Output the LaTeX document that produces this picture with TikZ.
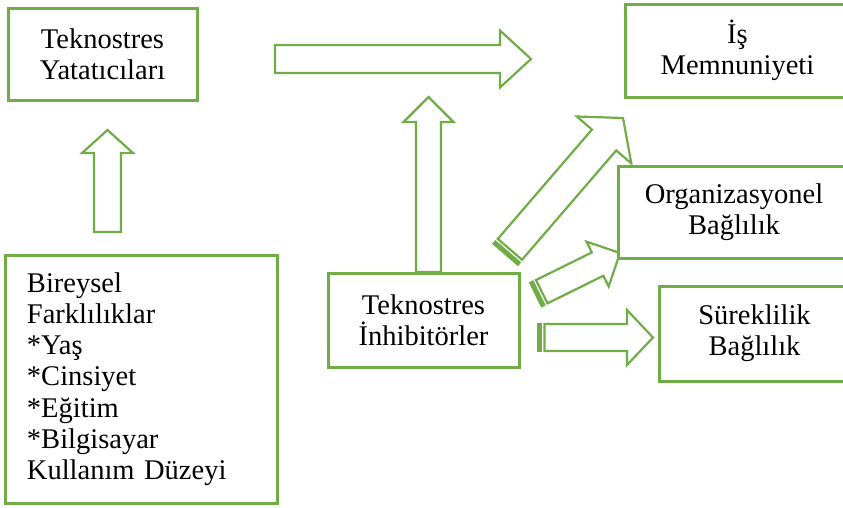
\documentclass[tikz,border=0pt]{standalone}
\usepackage{fontspec}
\setmainfont{Liberation Serif}
\usetikzlibrary{calc}

\definecolor{boxgreen}{HTML}{70AD47}

\tikzset{
  box/.style={draw=boxgreen, fill=white, line width=3pt, inner sep=0pt,
    align=center, font=\fontsize{28.5}{31.2}\selectfont},
  arrowline/.style={draw=boxgreen, fill=white, line width=2.2pt, line join=miter},
}

% #1 start of outline, #2 from, #3 to, #4 half shaft, #5 half head, #6 head length
\newcommand\blockarrow[6]{%
  \draw[arrowline] let \p1=($(#3)-(#2)$), \n1={atan2(\y1,\x1)}, \n2={veclen(\x1,\y1)} in
    [shift={(#2)},rotate=\n1]
    (#1,-#4) -- (\n2-#6,-#4) -- (\n2-#6,-#5) -- (\n2,0) -- (\n2-#6,#5)
    -- (\n2-#6,#4) -- (#1,#4) -- cycle;}

% same, with the striped tail
\newcommand\stripearrow[5]{%
  \fill[boxgreen] let \p1=($(#2)-(#1)$), \n1={atan2(\y1,\x1)} in
    [shift={(#1)},rotate=\n1] (0,-#3-1.1) rectangle (5,#3+1.1);
  \blockarrow{7.5}{#1}{#2}{#3}{#4}{#5}}

\begin{document}
\begin{tikzpicture}[x=1pt,y=-1pt]

\useasboundingbox (0,0) rectangle (843,507);
\clip (0,0) rectangle (843,507);

% arrow ends
\coordinate (topfrom) at (275,59);
\coordinate (topto) at (531,59);
\coordinate (bfrom) at (107.5,232);
\coordinate (bto) at (107.5,130);
\coordinate (ifrom) at (428.5,272);
\coordinate (ito) at (428.5,97);
\coordinate (d1from) at (505,255);
\coordinate (d1to) at (623,118);
\coordinate (d2from) at (535,295);
\coordinate (d2to) at (620,253);
\coordinate (hfrom) at (537,337.5);
\coordinate (hto) at (653,337.5);

\blockarrow{0}{topfrom}{topto}{14}{28.5}{31}
\blockarrow{0}{bfrom}{bto}{13.5}{25.5}{23}
\blockarrow{0}{ifrom}{ito}{12.5}{25}{25}

\stripearrow{d1from}{d1to}{16}{36}{29}
\stripearrow{d2from}{d2to}{13}{25}{25}
\stripearrow{hfrom}{hto}{13.5}{27.5}{26}

\node[box, minimum width=189, minimum height=92] (yatatici) at (102.5,54)
  {Teknostres\\Yatatıcıları};
\node[box, minimum width=272, minimum height=248, text width=228, align=left]
  (bireysel) at (141,379)
  {Bireysel\\Farklılıklar\\{*}Yaş\\{*}Cinsiyet\\{*}Eğitim\\{*}Bilgisayar\\Kullanım Düzeyi};
\node[box, minimum width=191, minimum height=94] (inhibitor) at (423.5,320)
  {Teknostres\\İnhibitörler};

\node[box, minimum width=225, minimum height=93] (memnun) at (737.5,50.5)
  {İş\\Memnuniyeti};
\node[box, minimum width=232, minimum height=92] (orgbag) at (734,212)
  {Organizasyonel\\Bağlılık};
\node[box, minimum width=191, minimum height=95] (surbag) at (754.5,333.5)
  {Süreklilik\\Bağlılık};

\end{tikzpicture}
\end{document}
